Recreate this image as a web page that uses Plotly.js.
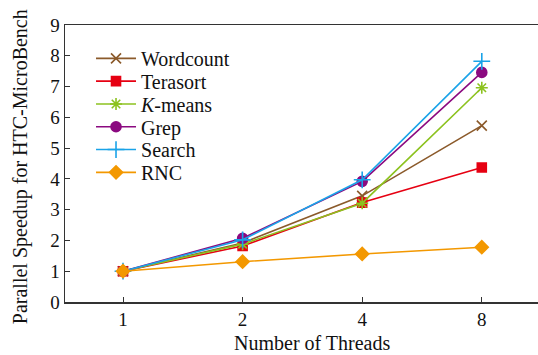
<!DOCTYPE html>
<html><head><meta charset="utf-8">
<script src="https://cdn.plot.ly/plotly-3.0.1.min.js"></script>
<style>body{margin:0;background:#fff}#c{width:538px;height:355px}</style>
</head><body><div id="c"></div>
<script>
const threads = ["1", "2", "4", "8"];
const seriesNames = ["Wordcount", "Terasort", "<i>K</i>-means", "Grep", "Search", "RNC"];
const wordcount = [1, 1.92, 3.45, 5.73];
const terasort  = [1, 1.82, 3.23, 4.37];
const kmeans    = [1, 1.88, 3.21, 6.96];
const grep      = [1, 2.07, 3.92, 7.46];
const search    = [1, 2.02, 3.97, 7.82];
const rnc       = [1, 1.31, 1.56, 1.78];
const yTicks = [0,1,2,3,4,5,6,7,8,9];
const xTitle = "Number of Threads";
const yTitle = "Parallel Speedup for HTC-MicroBench";

const values = [wordcount, terasort, kmeans, grep, search, rnc];
const colors = ["#8B5A2B", "#E60012", "#8CC21F", "#8B0A80", "#1AA3E8", "#F39800"];
const symbols = ["x-thin-open", "square", "asterisk-open", "circle", "cross-thin-open", "diamond"];
const sizes = [10, 9, 10, 10, 12, 10];

const traces = values.map((v, i) => ({
  x: threads, y: v, name: seriesNames[i], type: "scatter", mode: "lines+markers",
  line: {color: colors[i], width: 1.6},
  marker: {symbol: symbols[i], size: sizes[i], color: colors[i], line: {color: colors[i], width: 1.6}}
}));

const fam = '"Liberation Serif", "Times New Roman", serif';
const f = s => ({family: fam, color: "#111", size: s});
Plotly.newPlot("c", traces, {
  width: 538, height: 355,
  margin: {l: 65, r: 0, t: 25, b: 53},
  paper_bgcolor: "#fff", plot_bgcolor: "#fff",
  font: f(18),
  showlegend: true,
  legend: {x: 0.055, y: 0.95, xanchor: "left", yanchor: "top", bgcolor: "rgba(0,0,0,0)", font: f(20), tracegroupgap: 0, itemwidth: 40},
  xaxis: {type: "category", range: [-0.485, 3.47], showgrid: false, zeroline: false,
    showline: true, linecolor: "#333", linewidth: 1.5, mirror: true,
    ticks: "inside", ticklen: 5, tickcolor: "#333", tickfont: f(19)},
  yaxis: {range: [0, 9], tickvals: yTicks, showgrid: false, zeroline: false,
    showline: true, linecolor: "#333", linewidth: 1.5,
    ticks: "inside", ticklen: 5, tickcolor: "#333", tickfont: f(19)},
  annotations: [
    {text: xTitle, xref: "paper", yref: "paper", x: 0.522, y: -0.147, xanchor: "center", yanchor: "middle", showarrow: false, font: f(20)},
    {text: yTitle, xref: "paper", yref: "paper", x: -0.095, y: 0.487, xanchor: "center", yanchor: "middle", textangle: -90, showarrow: false, font: f(20)}
  ]
}, {displayModeBar: false, staticPlot: true}).then(gd => {
  // tighten legend row spacing to match the reference
  const items = gd.querySelectorAll(".legend .traces");
  if (!items.length) return;
  const m = /translate\(([-\d.]+),\s*([-\d.]+)\)/.exec(items[0].getAttribute("transform") || "");
  if (!m) return;
  const x0 = parseFloat(m[1]), y0 = parseFloat(m[2]);
  items.forEach((el, i) => el.setAttribute("transform", `translate(${x0},${y0 + i * 22.8})`));
  const bg = gd.querySelector(".legend .bg");
  if (bg) bg.setAttribute("height", String(y0 + items.length * 22.8 + 6));
});
</script></body></html>
